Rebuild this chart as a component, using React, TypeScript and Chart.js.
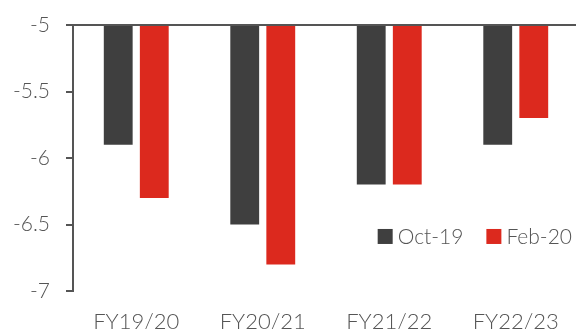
import React, { useEffect, useRef } from "react";
import { Chart, registerables } from "chart.js";

Chart.register(...registerables);

const categories = ["FY19/20", "FY20/21", "FY21/22", "FY22/23"];
const oct19 = [-5.9, -6.5, -6.2, -5.9];
const feb20 = [-6.3, -6.8, -6.2, -5.7];
const seriesNames = ["Oct-19", "Feb-20"];
const yMin = -7;
const yMax = -5;
const yStep = 0.5;

const DARK = "#3f3f3f";
const RED = "#dc291e";
const AXIS = "#555555";
const TEXT = "#555555";
const FONT = "Lato";
const FONT_SIZE = 21;

// Top rule along the -5 line
const topRule = {
  id: "topRule",
  afterDraw(chart: any) {
    const { ctx, chartArea } = chart;
    const y = chart.scales.y.getPixelForValue(yMax);
    ctx.save();
    ctx.strokeStyle = AXIS;
    ctx.lineWidth = 2;
    ctx.beginPath();
    ctx.moveTo(chartArea.left - 1, y);
    ctx.lineTo(chart.width, y);
    ctx.stroke();
    ctx.restore();
  },
};

// Legend drawn inside the plot, right-aligned
const innerLegend = {
  id: "innerLegend",
  afterDraw(chart: any) {
    const { ctx, chartArea } = chart;
    const box = 15;
    const boxGap = 5;
    const itemGap = 23;
    const cy = chart.scales.y.getPixelForValue(-6.59);
    ctx.save();
    ctx.font = `300 ${FONT_SIZE}px ${FONT}`;
    ctx.textBaseline = "middle";
    const items = chart.data.datasets.map((d: any) => ({
      label: d.label,
      color: d.backgroundColor,
      w: ctx.measureText(d.label).width,
    }));
    const total =
      items.reduce((s: number, it: any) => s + box + boxGap + it.w, 0) +
      itemGap * (items.length - 1);
    let x = chartArea.right - 7 - total;
    for (const it of items) {
      ctx.fillStyle = it.color;
      ctx.fillRect(x, cy - box / 2, box, box);
      x += box + boxGap;
      ctx.fillStyle = TEXT;
      ctx.fillText(it.label, x, cy + 1);
      x += it.w + itemGap;
    }
    ctx.restore();
  },
};

export default function App() {
  const ref = useRef<HTMLCanvasElement | null>(null);

  useEffect(() => {
    document.body.style.margin = "0";
    document.body.style.overflow = "hidden";
    const chart = new Chart(ref.current!, {
      type: "bar",
      data: {
        labels: categories,
        datasets: [
          { label: seriesNames[0], data: oct19, backgroundColor: DARK },
          { label: seriesNames[1], data: feb20, backgroundColor: RED },
        ],
      },
      options: {
        responsive: false,
        animation: false,
        layout: { padding: { top: 25, right: 0, bottom: 0, left: 0 } },
        datasets: {
          bar: { barPercentage: 0.8, categoryPercentage: 0.57 },
        },
        plugins: {
          legend: { display: false },
          tooltip: { enabled: false },
        },
        scales: {
          x: {
            grid: { display: false },
            border: { display: false },
            ticks: {
              color: TEXT,
              font: { family: FONT, size: 22, weight: "300" },
              padding: 10,
              maxRotation: 0,
            },
            afterFit(scale: any) {
              scale.height = 54;
            },
          },
          y: {
            min: yMin,
            max: yMax,
            ticks: {
              stepSize: yStep,
              color: TEXT,
              padding: 16,
              font: { family: FONT, size: FONT_SIZE, weight: "300" },
              callback: (v: any) => String(Number(v)),
            },
            grid: {
              drawOnChartArea: false,
              drawTicks: true,
              tickLength: 7,
              color: AXIS,
              lineWidth: 2,
            },
            border: { display: true, color: AXIS, width: 2 },
            afterFit(scale: any) {
              scale.width = 73;
              scale.paddingTop = 0;
              scale.paddingBottom = 0;
            },
          },
        },
      },
      plugins: [topRule, innerLegend],
    });
    return () => chart.destroy();
  }, []);

  return (
    <div style={{ position: "fixed", left: 0, top: 0 }}>
      <canvas ref={ref} width={579} height={345} />
    </div>
  );
}
